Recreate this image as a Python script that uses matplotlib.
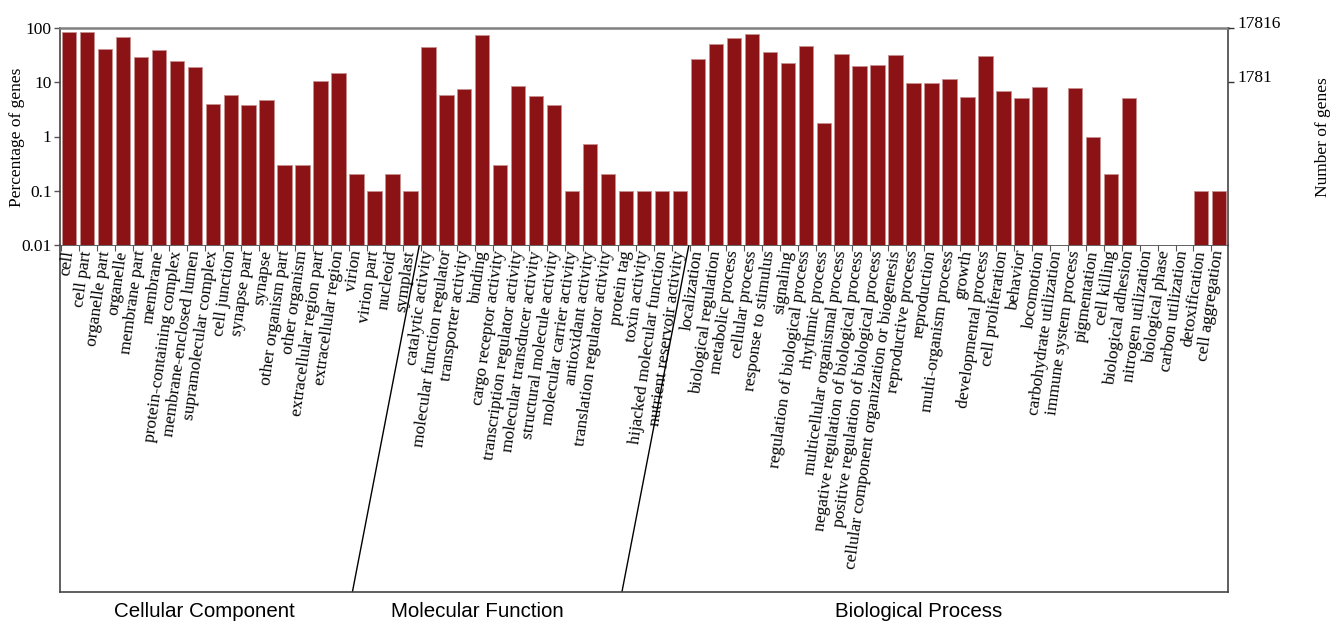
import numpy as np
import matplotlib
matplotlib.use("Agg")
import matplotlib.pyplot as plt
from matplotlib.ticker import FixedLocator, FixedFormatter

# GO categories, grouped by ontology
cc_terms = ["cell", "cell part", "organelle part", "organelle", "membrane part",
            "membrane", "protein-containing complex", "membrane-enclosed lumen",
            "supramolecular complex", "cell junction", "synapse part", "synapse",
            "other organism part", "other organism", "extracellular region part",
            "extracellular region", "virion", "virion part", "nucleoid", "symplast"]
cc_pct = [84.4, 84.0, 41.0, 68.0, 29.3, 39.4, 24.7, 19.4, 3.9, 5.7, 3.8, 4.7,
          0.3, 0.3, 10.7, 15.0, 0.2, 0.1, 0.2, 0.1]

mf_terms = ["catalytic activity", "molecular function regulator", "transporter activity",
            "binding", "cargo receptor activity", "transcription regulator activity",
            "molecular transducer activity", "structural molecule activity",
            "molecular carrier activity", "antioxidant activity",
            "translation regulator activity", "protein tag", "toxin activity",
            "hijacked molecular function", "nutrient reservoir activity"]
mf_pct = [44.0, 5.9, 7.6, 74.0, 0.3, 8.5, 5.5, 3.8, 0.1, 0.72, 0.2, 0.1, 0.1, 0.1, 0.1]

bp_terms = ["localization", "biological regulation", "metabolic process",
            "cellular process", "response to stimulus", "signaling",
            "regulation of biological process", "rhythmic process",
            "multicellular organismal process",
            "negative regulation of biological process",
            "positive regulation of biological process",
            "cellular component organization or biogenesis", "reproductive process",
            "reproduction", "multi-organism process", "growth", "developmental process",
            "cell proliferation", "behavior", "locomotion", "carbohydrate utilization",
            "immune system process", "pigmentation", "cell killing",
            "biological adhesion", "nitrogen utilization", "biological phase",
            "carbon utilization", "detoxification", "cell aggregation"]
bp_pct = [26.9, 50.8, 64.5, 78.6, 35.6, 22.3, 47.3, 1.74, 33.3, 20.0, 20.9, 31.9,
          9.75, 9.75, 11.5, 5.3, 30.0, 7.0, 5.1, 8.2, 0.0, 7.9, 1.0, 0.2, 5.2,
          0.0, 0.0, 0.0, 0.1, 0.1]

group_names = ["Cellular Component", "Molecular Function", "Biological Process"]
right_tick_pct = [100, 10]
right_tick_labels = ["17816", "1781"]
y_ticks = [0.01, 0.1, 1, 10, 100]
y_tick_labels = ["0.01", "0.1", "1", "10", "100"]

terms = cc_terms + mf_terms + bp_terms
pct = np.array(cc_pct + mf_pct + bp_pct, dtype=float)
group_sizes = [len(cc_terms), len(mf_terms), len(bp_terms)]
x = np.arange(len(terms))

serif = ["Liberation Serif", "DejaVu Serif"]
sans = ["Liberation Sans", "DejaVu Sans"]

W, H = 1343, 624
fig = plt.figure(figsize=(W / 100, H / 100), dpi=100)

AX_L, AX_W = 60, 1168
ax = fig.add_axes([AX_L / W, 379 / H, AX_W / W, 217 / H])
low = fig.add_axes([AX_L / W, 32 / H, AX_W / W, 347 / H])
low.set_zorder(-1)

# bars (zero-valued categories leave an empty slot on the log axis)
heights = np.where(pct > 0, pct, np.nan)
ax.bar(x, heights, width=0.8, color="#8b1215", edgecolor="#c89090",
       linewidth=0.6)
ax.set_yscale("log")
ax.set_ylim(0.01, 100)
ax.set_xlim(-0.5, len(terms) - 0.5)
ax.yaxis.set_major_locator(FixedLocator(y_ticks))
ax.yaxis.set_major_formatter(FixedFormatter(y_tick_labels))
ax.yaxis.set_minor_locator(FixedLocator([]))
ax.tick_params(axis="y", which="major", length=4, width=1, pad=2,
               labelsize=12.5, color="#555555")
for lab in ax.get_yticklabels():
    lab.set_fontfamily(serif)

# category labels at bar centres, small tick marks at bar left edges
ax.set_xticks(x)
ax.set_xticklabels(terms, rotation=82, ha="right", va="center",
                   rotation_mode="anchor", fontsize=12.5, fontfamily=serif)
ax.tick_params(axis="x", which="major", length=0, pad=4)
ax.xaxis.set_minor_locator(FixedLocator(x - 0.42))
ax.tick_params(axis="x", which="minor", length=4, width=0.8, color="#555555")

for side in ["left", "right"]:
    ax.spines[side].set_color("#444444")
    ax.spines[side].set_linewidth(1.2)
ax.spines["top"].set_color("#808080")
ax.spines["top"].set_linewidth(1.8)
ax.spines["bottom"].set_visible(False)

fig.text(17 / W, 1 - 137 / H, "Percentage of genes", rotation=90, ha="center",
         va="center", fontsize=12.5, fontfamily=serif)

# secondary axis with gene counts
ax2 = ax.twinx()
ax2.set_yscale("log")
ax2.set_ylim(0.01, 100)
ax2.yaxis.set_major_locator(FixedLocator(right_tick_pct))
ax2.yaxis.set_major_formatter(FixedFormatter(right_tick_labels))
ax2.yaxis.set_minor_locator(FixedLocator([]))
ax2.tick_params(axis="y", length=4, width=1, pad=3, labelsize=12.5, color="#333333")
for lab in ax2.get_yticklabels():
    lab.set_fontfamily(serif)
    lab.set_verticalalignment("baseline")
for s in ax2.spines.values():
    s.set_visible(False)
fig.text(1323 / W, 1 - 137 / H, "Number of genes", rotation=90, ha="center",
         va="center", fontsize=12.5, fontfamily=serif)

# lower box holding the category labels and the group separators
low.set_xlim(-0.5, len(terms) - 0.5)
low.set_ylim(0, 1)
low.set_xticks([])
low.set_yticks([])
for s in low.spines.values():
    s.set_color("#444444")
    s.set_linewidth(1.2)

px_per_unit = AX_W / len(terms)
slant = 67 / px_per_unit
bounds = np.cumsum(group_sizes)[:-1] - 0.5
for b in bounds:
    low.plot([b - slant, b], [0, 1], color="black", lw=1.0)

# group titles under the box
title_px = [204, 477, 919]
for name, px in zip(group_names, title_px):
    low.text((px - AX_L) / AX_W, -0.055, name, ha="center", va="center",
             fontsize=14.8, fontfamily=sans, transform=low.transAxes,
             clip_on=False)

fig.savefig("out.png", dpi=100, facecolor="white")
